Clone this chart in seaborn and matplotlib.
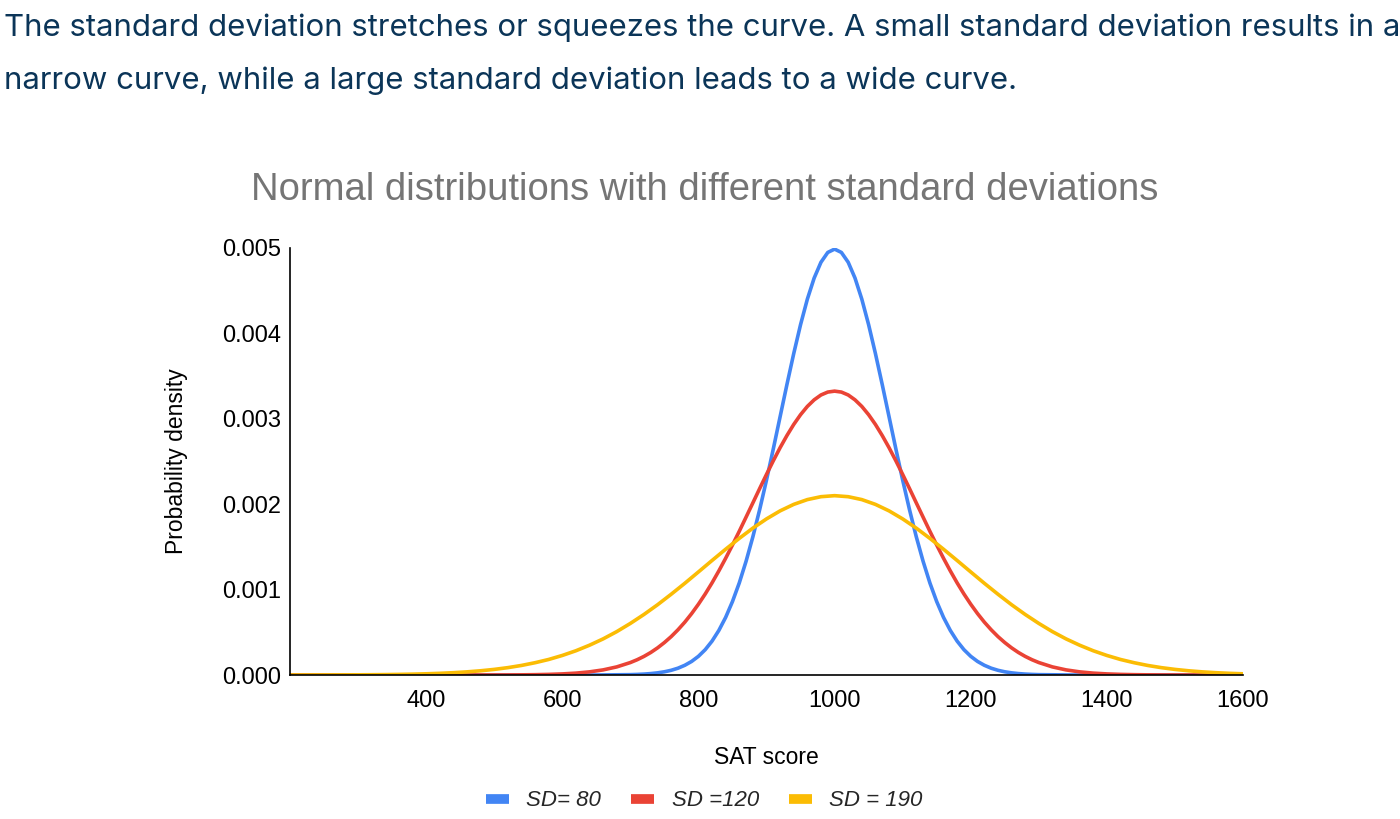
import numpy as np
import pandas as pd
import matplotlib
matplotlib.use("Agg")
import matplotlib.pyplot as plt
import seaborn as sns
from matplotlib.lines import Line2D

# Values (SAT score vs probability density)
# SD = 80: centre part sampled every 10 points, the tails are flat at zero
sd80_x = [200, 400, 600, 650] + list(range(700, 1310, 10)) + [1350, 1400, 1600]
sd80_half = [0.0000044, 0.0000070, 0.0000109, 0.0000168, 0.0000254, 0.0000378,
             0.0000554, 0.0000800, 0.000114, 0.000159, 0.000219, 0.000297,
             0.000397, 0.000522, 0.000675, 0.000860, 0.001078, 0.001332,
             0.001619, 0.001938, 0.002283, 0.002648, 0.003025, 0.003401,
             0.003764, 0.004102, 0.004401, 0.004648, 0.004833, 0.004948]
sd80_peak = 0.004987
sd80_y = [0.0, 0.0, 0.0, 0.0000003] + sd80_half + [sd80_peak] + sd80_half[::-1] + [0.0000003, 0.0, 0.0]

# SD = 120
sd120_x = ([200, 400] + list(range(460, 700, 20)) + list(range(700, 1301, 10))
           + list(range(1320, 1541, 20)) + [1600])
sd120_tail = [0.0000001, 0.0000003, 0.0000006, 0.0000011, 0.0000021, 0.0000040,
              0.0000073, 0.0000129, 0.0000221, 0.0000369, 0.0000600, 0.0000950]
sd120_core = [0.000146, 0.000179, 0.000218, 0.000264, 0.000318, 0.000380,
              0.000450, 0.000530, 0.000619, 0.000719, 0.000829, 0.000949,
              0.001079, 0.001219, 0.001367, 0.001522, 0.001683, 0.001849,
              0.002016, 0.002184, 0.002349, 0.002509, 0.002662, 0.002804,
              0.002934, 0.003048, 0.003145, 0.003222, 0.003279, 0.003313]
sd120_peak = 0.003324
sd120_y = ([0.0, 0.0] + sd120_tail + sd120_core + [sd120_peak]
           + sd120_core[::-1] + sd120_tail[::-1] + [0.0])

# SD = 190, every 20 points
sd190_x = list(range(200, 1620, 20))
sd190_left = [0.0000003, 0.0000005, 0.0000007, 0.0000011, 0.0000016, 0.0000024,
              0.0000035, 0.0000050, 0.0000072, 0.0000102, 0.0000143, 0.0000199,
              0.0000273, 0.0000370, 0.0000496, 0.0000658, 0.0000863, 0.000112,
              0.000144, 0.000182, 0.000229, 0.000284, 0.000349, 0.000423,
              0.000508, 0.000604, 0.000709, 0.000823, 0.000946, 0.001074,
              0.001207, 0.001341, 0.001473, 0.001600, 0.001720, 0.001828,
              0.001922, 0.001998, 0.002054, 0.002088]
sd190_peak = 0.002100
sd190_y = sd190_left + [sd190_peak] + sd190_left[::-1][:30]

labels = ["SD= 80", "SD =120", "SD = 190"]
colors = ["#4285F4", "#EA4335", "#FBBC04"]

x_ticks = [400, 600, 800, 1000, 1200, 1400, 1600]
y_ticks = [0, 0.001, 0.002, 0.003, 0.004, 0.005]

df = pd.concat([
    pd.DataFrame({"score": sd80_x, "density": sd80_y, "series": labels[0]}),
    pd.DataFrame({"score": sd120_x, "density": sd120_y, "series": labels[1]}),
    pd.DataFrame({"score": sd190_x, "density": sd190_y, "series": labels[2]}),
])

sns.set_style("white")
plt.rcParams["font.family"] = ["Liberation Sans", "DejaVu Sans"]

fig = plt.figure(figsize=(14, 8.19), dpi=100)
ax = fig.add_axes([0.2071, 0.1758, 0.6808, 0.5214])

sns.lineplot(data=df, x="score", y="density", hue="series", hue_order=labels,
             palette=colors, linewidth=2.6, ax=ax, legend=False)

ax.set_xlim(200, 1600)
ax.set_ylim(0, 0.005)
ax.set_xticks(x_ticks)
ax.set_yticks(y_ticks)
ax.set_yticklabels([f"{v:.3f}" for v in y_ticks])
ax.tick_params(axis="both", length=0, labelsize=17, colors="black")
ax.tick_params(axis="x", pad=11)
ax.tick_params(axis="y", pad=6)
for s in ["top", "right"]:
    ax.spines[s].set_visible(False)
for s in ["left", "bottom"]:
    ax.spines[s].set_color("black")
    ax.spines[s].set_linewidth(1.2)

ax.set_xlabel("SAT score", fontsize=16.5, color="black", labelpad=24)
ax.set_ylabel("Probability density", fontsize=16.5, color="black", labelpad=25)

fig.text(0.503, 0.768, "Normal distributions with different standard deviations",
         ha="center", va="center", fontsize=27.5, color="#757575")

# intro text above the chart
intro_font = ["Inter", "DejaVu Sans"]
fig.text(0.003, 0.966, "The standard deviation stretches or squeezes the curve. "
         "A small standard deviation results in a",
         ha="left", va="center", fontsize=22.4, color="#0b3558", family=intro_font)
fig.text(0.003, 0.901, "narrow curve, while a large standard deviation leads to a wide curve.",
         ha="left", va="center", fontsize=22.4, color="#0b3558", family=intro_font)

handles = [Line2D([0], [0], color=c, linewidth=7, solid_capstyle="butt") for c in colors]
fig.legend(handles, labels, loc="center", bbox_to_anchor=(0.503, 0.022), ncol=3,
           frameon=False, handlelength=1.05, handletextpad=0.77, columnspacing=1.36,
           prop={"style": "italic", "size": 16})

fig.savefig("out.png", dpi=100)
